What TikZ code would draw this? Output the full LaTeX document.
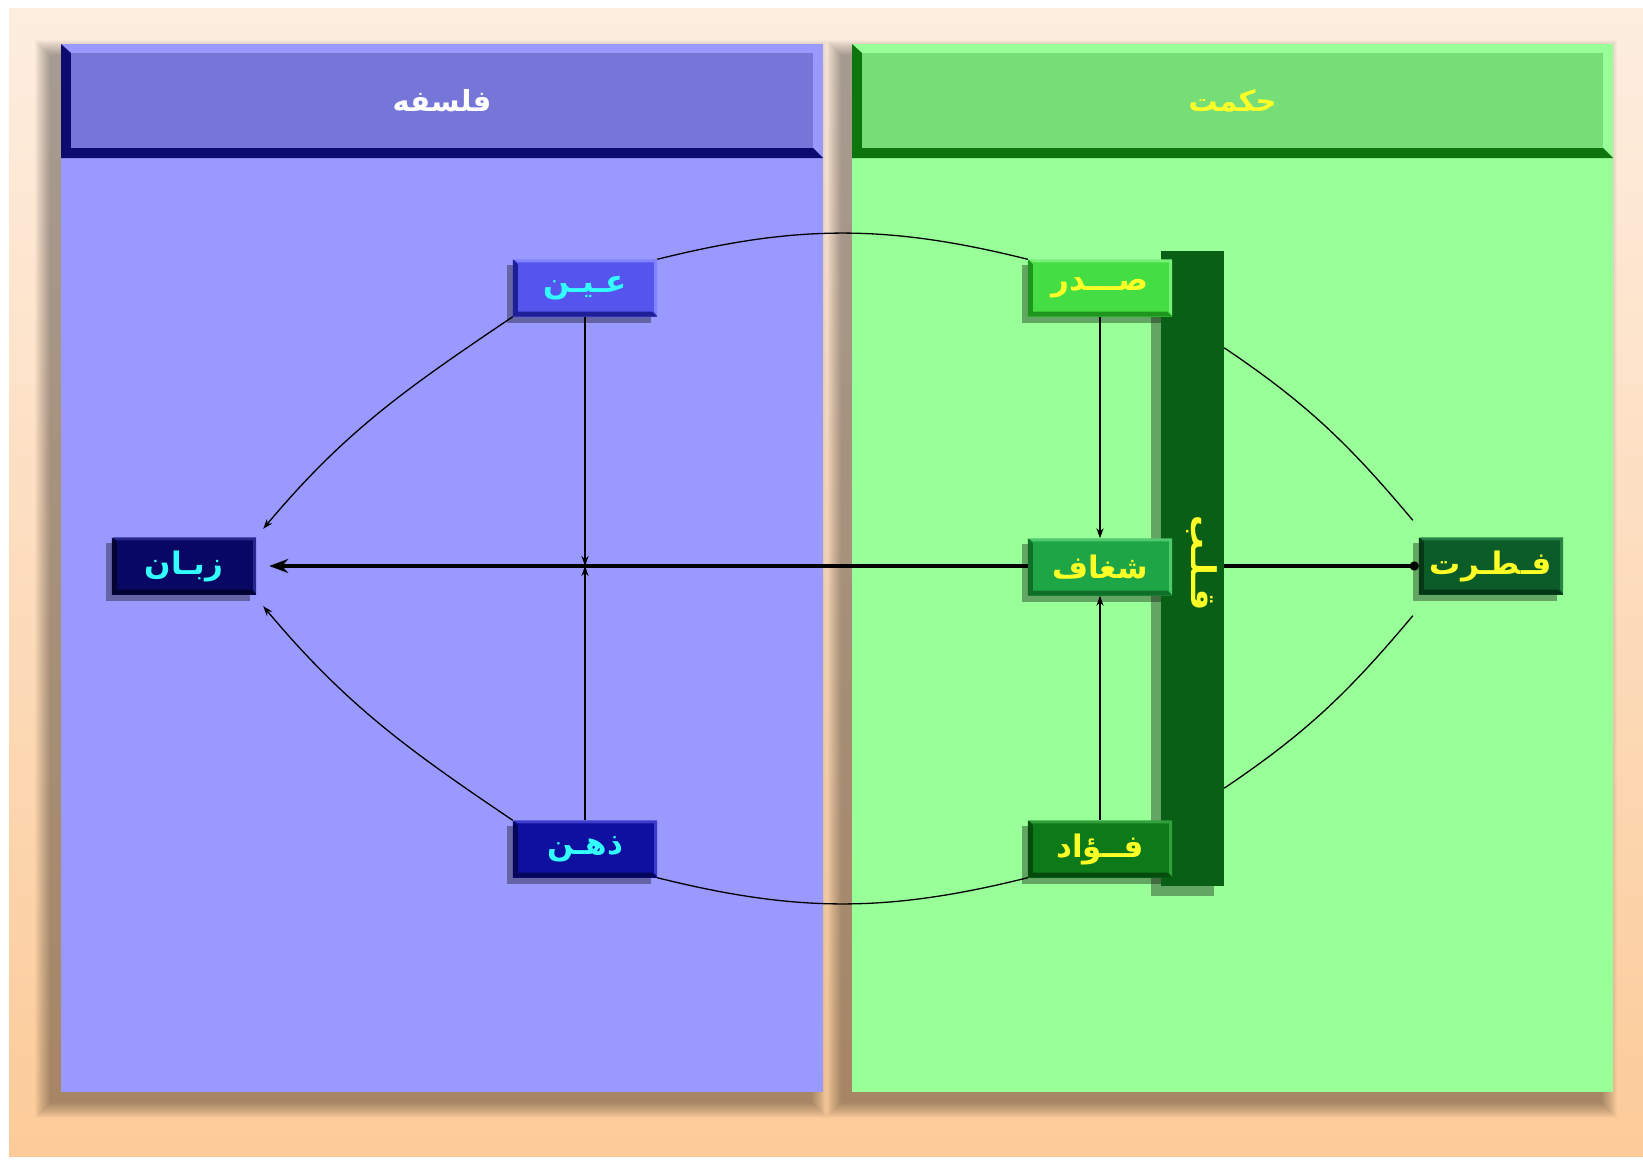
\documentclass[tikz,border=0pt]{standalone}
\usepackage{fontspec}
\newfontfamily\ar[Script=Arabic]{DejaVu Sans}
\TeXXeTstate=1
\usetikzlibrary{arrows.meta,calc}
\pgfdeclarelayer{back}\pgfdeclarelayer{lines}\pgfdeclarelayer{shad}
\pgfsetlayers{back,lines,shad,main}
\definecolor{bgtop}{RGB}{253,238,224}
\definecolor{bgbot}{RGB}{252,203,153}
\definecolor{pblue}{RGB}{153,153,255}
\definecolor{hblue}{RGB}{118,118,217}
\definecolor{dblue}{RGB}{12,12,112}
\definecolor{pgreen}{RGB}{153,255,153}
\definecolor{hgreen}{RGB}{119,221,119}
\definecolor{dgreen}{RGB}{12,118,12}
\definecolor{txtcyan}{RGB}{51,255,255}
\definecolor{txtyel}{RGB}{255,255,40}
\definecolor{einF}{RGB}{85,85,238}\definecolor{einL}{RGB}{130,130,255}\definecolor{einD}{RGB}{30,30,150}
\definecolor{zehF}{RGB}{15,15,160}\definecolor{zehL}{RGB}{60,60,200}\definecolor{zehD}{RGB}{5,5,90}
\definecolor{zabF}{RGB}{8,8,100}\definecolor{zabL}{RGB}{40,40,140}\definecolor{zabD}{RGB}{3,3,50}
\definecolor{sadF}{RGB}{68,221,68}\definecolor{sadL}{RGB}{120,240,120}\definecolor{sadD}{RGB}{30,150,30}
\definecolor{shaF}{RGB}{30,165,70}\definecolor{shaL}{RGB}{80,200,110}\definecolor{shaD}{RGB}{15,110,40}
\definecolor{fouF}{RGB}{12,122,25}\definecolor{fouL}{RGB}{50,160,60}\definecolor{fouD}{RGB}{5,75,12}
\definecolor{fitF}{RGB}{12,92,42}\definecolor{fitL}{RGB}{40,130,70}\definecolor{fitD}{RGB}{5,55,22}
\definecolor{barF}{RGB}{10,95,22}
\tikzset{
  nbox/.style={rectangle, minimum width=144pt, minimum height=57pt, inner sep=0pt,
    font=\ar\bfseries\fontsize{31}{37}\selectfont},
  hdrtext/.style={font=\ar\bfseries\fontsize{29}{35}\selectfont},
  thinln/.style={line width=1.3pt, black},
  thickln/.style={line width=4pt, black},
  tiptip/.style={-{Stealth[length=10pt,width=7pt]}},
}
\newcommand\mkbox[8]{%
  \node[nbox, fill=#4, text=#7] (#1) at (#2,#3) {\beginR #8\endR};
  \fill[#6] (#1.north west) -- ([xshift=5pt,yshift=-5pt]#1.north west) -- ([xshift=5pt,yshift=5pt]#1.south west) -- ([xshift=-5pt,yshift=5pt]#1.south east) -- (#1.south east) -- (#1.south west) -- cycle;
  \fill[#5] ([xshift=1pt]#1.north west) -- (#1.north east) -- ([yshift=1pt]#1.south east) -- ([xshift=-3pt,yshift=5pt]#1.south east) -- ([xshift=-3pt,yshift=-3pt]#1.north east) -- ([xshift=5pt,yshift=-3pt]#1.north west) -- cycle;
  \begin{pgfonlayer}{shad}
   \fill[black,opacity=0.35] ([xshift=-6pt,yshift=-6pt]#1.north west) rectangle ([xshift=-6pt,yshift=-6pt]#1.south east);
  \end{pgfonlayer}
}
\newcommand\mkpanel[8]{% x1 x2 body head dark name text textcolor
  \foreach \i in {0,...,15}{
    \fill[black,opacity=0.022] (#1-11-\i,44+11-\i) rectangle (#2-11+\i,1092+11+\i);
  }
  \fill[#3] (#1,44) rectangle (#2,1092);
  \fill[#5] (#1,44) -- (#1+10,53) -- (#1+10,148) -- (#2-10,148) -- (#2,158) -- (#1,158) -- cycle;
  \fill[#4] (#1+10,53) rectangle (#2-10,148);
  \node[hdrtext, text=#8] (#6) at ({(#1+#2)/2},101) {\beginR #7\endR};
}
\begin{document}
\begin{tikzpicture}[x=1pt,y=-1pt]
\useasboundingbox (0,0) rectangle (1643,1159);
\begin{pgfonlayer}{back}
  \fill[white] (0,0) rectangle (1643,1159);
  \shade[top color=bgtop,bottom color=bgbot] (9,8) rectangle (1643,1156);
  \mkpanel{61}{823}{pblue}{hblue}{dblue}{falsafe}{فلسفه}{white}
  \mkpanel{852}{1613}{pgreen}{hgreen}{dgreen}{hekmat}{حکمت}{txtyel}
\end{pgfonlayer}
% bar
\begin{pgfonlayer}{shad}
  \fill[black,opacity=0.35] (1151,261) rectangle (1214,896);
\end{pgfonlayer}
\node[rectangle, fill=barF, minimum width=63pt, minimum height=635pt, inner sep=0pt] (bar) at (1192.5,568.5) {};
\node[rotate=-90, text=txtyel, font=\ar\bfseries\fontsize{34}{40}\selectfont] (qalb) at (1202,563) {\beginR قـلـب\endR};
% boxes
\mkbox{ein}{585}{288}{einF}{einL}{einD}{txtcyan}{عـیـن}
\mkbox{zehn}{585}{849}{zehF}{zehL}{zehD}{txtcyan}{ذهـن}
\mkbox{zaban}{184}{566}{zabF}{zabL}{zabD}{txtcyan}{زبـان}
\mkbox{sadr}{1100}{288}{sadF}{sadL}{sadD}{txtyel}{صـــدر}
\mkbox{shaghaf}{1100}{567}{shaF}{shaL}{shaD}{txtyel}{شغاف}
\mkbox{fouad}{1100}{849}{fouF}{fouL}{fouD}{txtyel}{فــؤاد}
\mkbox{fitrat}{1491}{566}{fitF}{fitL}{fitD}{txtyel}{فـطـرت}
% free ends of connectors
\coordinate (zabUp) at ($(zaban.north east)+(7,-8.5)$);
\coordinate (zabDn) at ($(zaban.south east)+(7,11.5)$);
\coordinate (fitUp) at ($(fitrat.north west)+(-6,-17)$);
\coordinate (fitDn) at ($(fitrat.south west)+(-6,21)$);
\coordinate (barUp) at ($(bar.north east)+(0,97)$);
\coordinate (barDn) at ($(bar.south east)+(0,-98)$);
% connectors
\begin{pgfonlayer}{lines}
  \draw[thickln, {Circle[length=9pt]}-{Stealth[length=19pt,width=14pt]}, shorten >=13pt] (fitrat.west) -- (zaban.east);
  \draw[thinln, tiptip] (ein.south) -- (ein.south |- zaban.east);
  \draw[thinln, tiptip] (zehn.north) -- (zehn.north |- zaban.east);
  \draw[thinln, tiptip] (sadr.south) -- (shaghaf.north);
  \draw[thinln, tiptip] (fouad.north) -- (shaghaf.south);
  \draw[thinln, tiptip] (ein.south west) to[out=214,in=50] (zabUp);
  \draw[thinln, tiptip] (zehn.north west) to[out=146,in=-50] (zabDn);
  \draw[thinln] (ein.north east) to[out=14,in=166] (sadr.north west);
  \draw[thinln] (zehn.south east) to[out=-14,in=194] (fouad.south west);
  \draw[thinln] (barUp) to[out=-34,in=130] (fitUp);
  \draw[thinln] (barDn) to[out=34,in=230] (fitDn);
\end{pgfonlayer}
\end{tikzpicture}
\end{document}
